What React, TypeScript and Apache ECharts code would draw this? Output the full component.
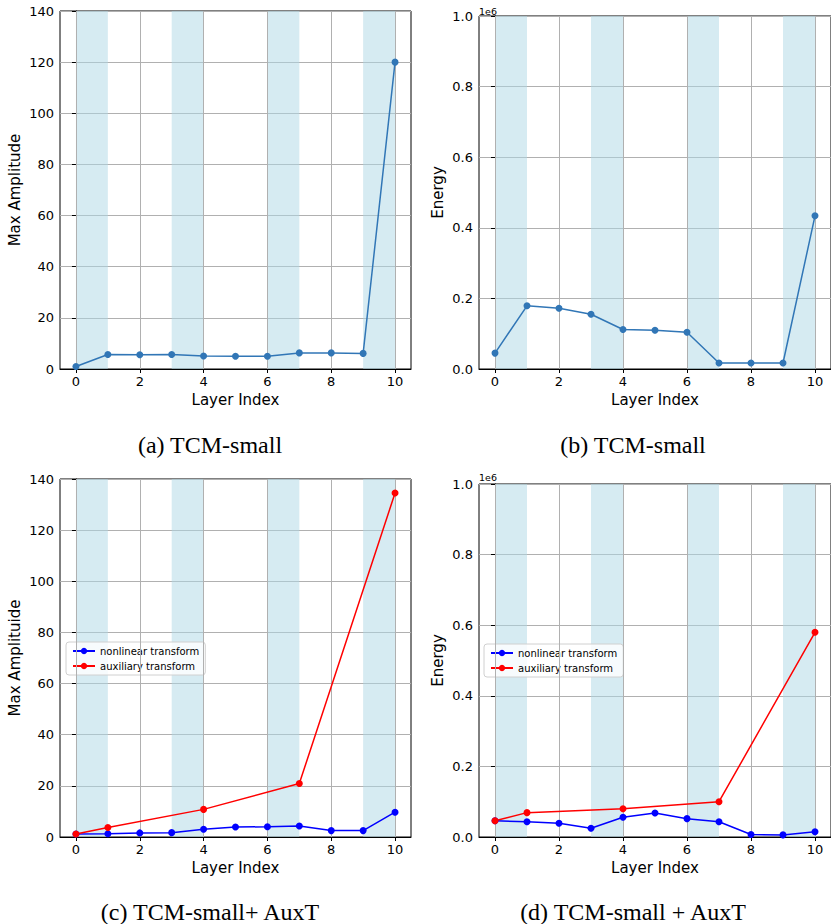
import React, { useEffect, useRef } from "react";
import * as echarts from "echarts";

const layers = [0, 1, 2, 3, 4, 5, 6, 7, 8, 9, 10];
const xTicks = [0, 2, 4, 6, 8, 10];
const bandStarts = [0, 3, 6, 9];
const bandWidth = 1;

// (a) TCM-small max amplitude
const ampSmall = [1.0, 5.7, 5.6, 5.7, 5.1, 5.0, 5.0, 6.3, 6.3, 6.1, 120];
// (b) TCM-small energy
const energySmall = [45000, 179000, 172000, 155000, 112000, 110000, 104000, 17000, 17000, 17000, 434000];
// (c) TCM-small + AuxT max amplitude
const ampNonlinear = [1.2, 1.3, 1.6, 1.7, 3.0, 3.9, 4.0, 4.3, 2.5, 2.5, 9.7];
const auxLayers = [0, 1, 4, 7, 10];
const ampAux = [1.2, 3.7, 10.8, 20.9, 134.5];
// (d) TCM-small + AuxT energy
const energyNonlinear = [46000, 43000, 39000, 25000, 56000, 68000, 52000, 43000, 7000, 6000, 15000];
const energyAux = [46000, 69000, 80000, 100000, 580000];

const captions = ["(a) TCM-small", "(b) TCM-small", "(c) TCM-small+ AuxT", "(d) TCM-small + AuxT"];
const yNames = ["Max Amplitude", "Energy", "Max Amplituide", "Energy"];
const seriesNames = ["nonlinear transform", "auxiliary transform"];

const SANS = "DejaVu Sans";
const SERIF = "Liberation Serif";
const GRID_COLOR = "#b0b0b0";
const BAND_COLOR = "rgba(173,216,230,0.5)";

const grids = [
  { left: 60, top: 11, width: 351, height: 358 },
  { left: 479, top: 16, width: 354, height: 353 },
  { left: 60, top: 479, width: 351, height: 358 },
  { left: 479, top: 484, width: 354, height: 353 },
];

export default function App() {
  const ref = useRef<HTMLDivElement>(null);
  useEffect(() => {
    document.body.style.margin = "0";
    const chart = echarts.init(ref.current!, undefined, { renderer: "svg" });

    const pairs = (xs: number[], ys: number[]) => xs.map((x, i) => [x, ys[i]]);
    const bandArea = {
      silent: true,
      itemStyle: { color: BAND_COLOR },
      data: bandStarts.map((s) => [{ xAxis: s }, { xAxis: s + bandWidth }]),
    };

    const xAxes = grids.map((_, i) => ({
      type: "value",
      gridIndex: i,
      min: -0.5,
      max: 10.5,
      name: "Layer Index",
      nameLocation: "middle",
      nameGap: 23,
      nameTextStyle: { fontFamily: SANS, fontSize: 15, color: "#000" },
      axisLine: { show: true, onZero: false, lineStyle: { color: "#000", width: 1 } },
      axisTick: { show: true, length: 4, customValues: xTicks, lineStyle: { color: "#000" } },
      axisLabel: {
        customValues: xTicks,
        fontFamily: SANS,
        fontSize: 13,
        color: "#000",
        margin: 6,
      },
      splitLine: { show: false },
    }));

    const isEnergy = [false, true, false, true];
    const yAxes = grids.map((_, i) => ({
      type: "value",
      gridIndex: i,
      min: 0,
      max: isEnergy[i] ? 1000000 : 140,
      interval: isEnergy[i] ? 200000 : 20,
      name: yNames[i],
      nameLocation: "middle",
      nameRotate: 90,
      nameGap: isEnergy[i] ? 34 : 38,
      nameTextStyle: { fontFamily: SANS, fontSize: 15, color: "#000" },
      axisLine: { show: true, lineStyle: { color: "#000", width: 1 } },
      axisTick: { show: true, length: 4, lineStyle: { color: "#000" } },
      axisLabel: {
        fontFamily: SANS,
        fontSize: 13,
        color: "#000",
        margin: 6,
        formatter: isEnergy[i] ? (v: number) => (v / 1e6).toFixed(1) : (v: number) => String(v),
      },
      splitLine: { show: true, lineStyle: { color: GRID_COLOR, width: 1 } },
    }));

    const gridLineSeries = (i: number) => ({
      type: "line",
      xAxisIndex: i,
      yAxisIndex: i,
      data: [],
      silent: true,
      markArea: bandArea,
      markLine: {
        silent: true,
        symbol: "none",
        label: { show: false },
        lineStyle: { color: GRID_COLOR, width: 1, type: "solid" },
        data: xTicks.map((t) => ({ xAxis: t })),
      },
    });

    const lineStyle = (color: string, name?: string) => ({
      type: "line",
      name,
      symbol: "circle",
      symbolSize: 7,
      lineStyle: { color, width: 1.5 },
      itemStyle: { color },
      z: 5,
    });

    const series: any[] = [
      gridLineSeries(0),
      gridLineSeries(1),
      gridLineSeries(2),
      gridLineSeries(3),
      { ...lineStyle("#3176b6"), xAxisIndex: 0, yAxisIndex: 0, data: pairs(layers, ampSmall) },
      { ...lineStyle("#3176b6"), xAxisIndex: 1, yAxisIndex: 1, data: pairs(layers, energySmall) },
      { ...lineStyle("#0000ff", seriesNames[0]), xAxisIndex: 2, yAxisIndex: 2, data: pairs(layers, ampNonlinear) },
      { ...lineStyle("#ff0000", seriesNames[1]), xAxisIndex: 2, yAxisIndex: 2, data: pairs(auxLayers, ampAux) },
      { ...lineStyle("#0000ff", seriesNames[0]), xAxisIndex: 3, yAxisIndex: 3, data: pairs(layers, energyNonlinear) },
      { ...lineStyle("#ff0000", seriesNames[1]), xAxisIndex: 3, yAxisIndex: 3, data: pairs(auxLayers, energyAux) },
    ];

    const legendBase = {
      orient: "vertical",
      data: seriesNames,
      itemWidth: 22,
      itemHeight: 8,
      itemGap: 5,
      padding: [4, 6, 4, 6],
      backgroundColor: "rgba(255,255,255,0.8)",
      borderColor: "#d0d0d0",
      borderWidth: 1,
      borderRadius: 3,
      selectedMode: false,
      textStyle: { fontFamily: SANS, fontSize: 10, color: "#000" },
    };

    const captionPos = [
      [210, 445],
      [633, 445],
      [210, 912],
      [633, 912],
    ];

    const graphic: any[] = captions.map((c, i) => ({
      type: "text",
      x: captionPos[i][0],
      y: captionPos[i][1],
      style: {
        text: c,
        fontFamily: SERIF,
        fontSize: 24,
        fill: "#000",
        align: "center",
        verticalAlign: "middle",
      },
    }));
    [
      [479, 11],
      [479, 477],
    ].forEach(([x, y]) =>
      graphic.push({
        type: "text",
        x,
        y,
        style: { text: "1e6", fontFamily: SANS, fontSize: 9.5, fill: "#000", align: "left", verticalAlign: "middle" },
      })
    );

    chart.setOption({
      animation: false,
      backgroundColor: "#fff",
      grid: grids.map((g) => ({ ...g, containLabel: false, show: true, borderColor: "#000", borderWidth: 1, backgroundColor: "transparent" })),
      xAxis: xAxes,
      yAxis: yAxes,
      series,
      legend: [
        { ...legendBase, left: 66, top: 642 },
        { ...legendBase, left: 484, top: 644 },
      ],
      graphic,
    } as any);

    return () => chart.dispose();
  }, []);
  return <div ref={ref} style={{ width: 831, height: 924 }} />;
}
